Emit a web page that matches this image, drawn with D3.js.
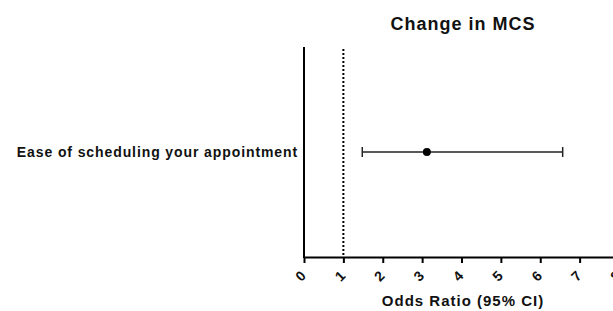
<!DOCTYPE html>
<html>
<head>
<meta charset="utf-8">
<script src="https://cdn.jsdelivr.net/npm/d3@7"></script>
<style>
  body { margin: 0; background: #fff; }
  svg { display: block; font-family: "Liberation Sans", Arial, sans-serif; }
</style>
</head>
<body>
<svg id="chart" width="613" height="311"></svg>
<script>
// data
var items = ["Ease of scheduling your appointment"];
var oddsRatio = [3.12];
var lowerCI = [1.48];
var upperCI = [6.57];
var xTicks = [0, 1, 2, 3, 4, 5, 6, 7, 8];
var refLine = 1;

var svg = d3.select("#chart");
var margin = { left: 304, top: 47, bottom: 257 };

var x = d3.scaleLinear().domain([0, 8]).range([304, 619]);
var y = d3.scaleBand().domain(items).range([margin.top, margin.bottom]);

// title
svg.append("text")
  .attr("x", 463).attr("y", 30)
  .attr("text-anchor", "middle")
  .style("font-size", "18px").style("font-weight", "bold")
  .style("letter-spacing", "1px")
  .attr("fill", "#111")
  .text("Change in MCS");

// reference line at OR = 1
svg.append("line")
  .attr("x1", x(refLine)).attr("x2", x(refLine))
  .attr("y1", margin.top + 2).attr("y2", margin.bottom)
  .attr("stroke", "#000").attr("stroke-width", 2)
  .attr("stroke-dasharray", "2,2");

// y axis line
svg.append("line")
  .attr("x1", x(0)).attr("x2", x(0))
  .attr("y1", margin.top).attr("y2", margin.bottom + 1)
  .attr("stroke", "#000").attr("stroke-width", 2);

// x axis
var xAxis = svg.append("g")
  .attr("transform", "translate(0," + margin.bottom + ")")
  .call(d3.axisBottom(x).tickValues(xTicks).tickSize(6).tickSizeOuter(0));
xAxis.select(".domain").attr("stroke-width", 2).attr("stroke", "#000");
xAxis.selectAll(".tick line").attr("stroke-width", 2).attr("stroke", "#000");
xAxis.selectAll(".tick text")
  .attr("y", 0).attr("dy", 0)
  .attr("text-anchor", "middle")
  .attr("transform", "translate(-3,20) rotate(-45)")
  .attr("dominant-baseline", "middle")
  .style("font-size", "14px").style("font-weight", "bold")
  .style("font-family", "Liberation Sans, Arial, sans-serif")
  .attr("fill", "#111");

// axis title
svg.append("text")
  .attr("x", 463).attr("y", 306)
  .attr("text-anchor", "middle")
  .style("font-size", "15px").style("font-weight", "bold")
  .style("letter-spacing", "1px")
  .attr("fill", "#111")
  .text("Odds Ratio (95% CI)");

// row labels
svg.selectAll(".rowlabel").data(items).enter().append("text")
  .attr("class", "rowlabel")
  .attr("x", 298)
  .attr("y", function(d) { return y(d) + y.bandwidth() / 2 + 5; })
  .attr("text-anchor", "end")
  .style("font-size", "14px").style("font-weight", "bold")
  .style("letter-spacing", "0.9px")
  .attr("fill", "#111")
  .text(function(d) { return d; });

// error bars and points
var rows = svg.selectAll(".row").data(items).enter().append("g")
  .attr("class", "row")
  .attr("transform", function(d) { return "translate(0," + (y(d) + y.bandwidth() / 2) + ")"; });

rows.append("line")
  .attr("x1", function(d, i) { return x(lowerCI[i]); })
  .attr("x2", function(d, i) { return x(upperCI[i]); })
  .attr("stroke", "#222").attr("stroke-width", 1.5);

rows.append("line")
  .attr("x1", function(d, i) { return x(lowerCI[i]); })
  .attr("x2", function(d, i) { return x(lowerCI[i]); })
  .attr("y1", -5).attr("y2", 5)
  .attr("stroke", "#222").attr("stroke-width", 1.5);

rows.append("line")
  .attr("x1", function(d, i) { return x(upperCI[i]); })
  .attr("x2", function(d, i) { return x(upperCI[i]); })
  .attr("y1", -5).attr("y2", 5)
  .attr("stroke", "#222").attr("stroke-width", 1.5);

rows.append("circle")
  .attr("cx", function(d, i) { return x(oddsRatio[i]); })
  .attr("r", 4)
  .attr("fill", "#000");
</script>
</body>
</html>
